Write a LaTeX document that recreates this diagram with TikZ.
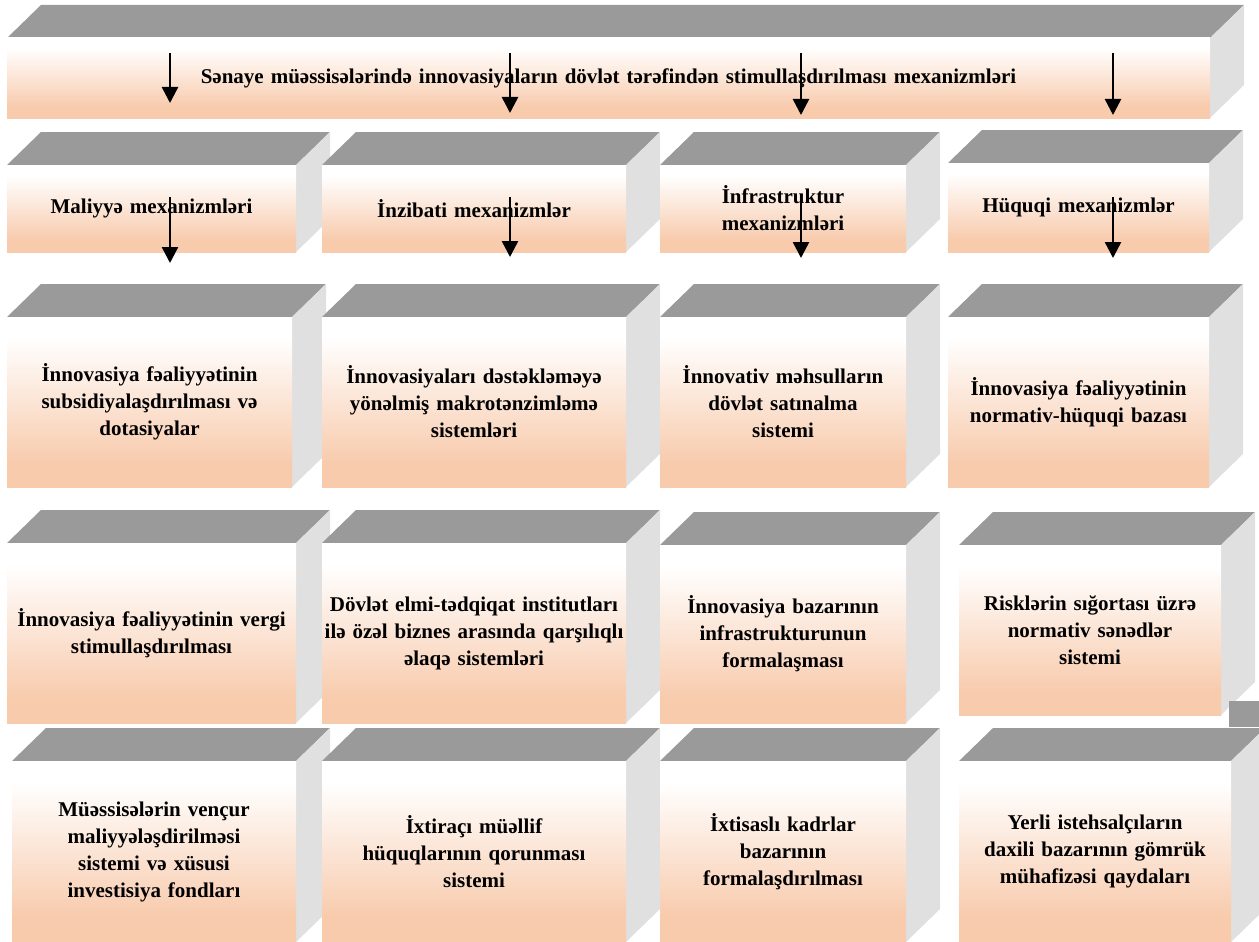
\documentclass[tikz,border=0pt]{standalone}
\usepackage{fontspec}
\setmainfont{Liberation Serif}
\usetikzlibrary{calc,arrows.meta,backgrounds}

\definecolor{peach}{HTML}{F8CBAD}
\definecolor{topgray}{HTML}{9A9A9A}
\definecolor{sidegray}{HTML}{E0E0E0}
\pgfdeclareverticalshading{peachfade}{100bp}{color(0bp)=(peach); color(32bp)=(peach); color(69bp)=(white); color(100bp)=(white)}

\begin{document}
\begin{tikzpicture}[x=1pt,y=-1pt,
    front/.style={shading=peachfade,inner sep=0pt,outer sep=0pt,align=center,
      font=\fontsize{21}{27}\selectfont\bfseries},
    topface/.style={fill=topgray},
    sideface/.style={fill=sidegray},
    arr/.style={line width=2.5pt,-{Triangle[width=16pt,length=16pt]}}]
  \useasboundingbox (0,0) rectangle (1259,942);

  % top
  \node[front,text width=1203pt,minimum height=80pt](S) at (608.5,78)
    {Sənaye müəssisələrində innovasiyaların dövlət tərəfindən stimullaşdırılması mexanizmləri};

  % mechanisms
  \node[front,text width=289pt,minimum height=87pt](Mal) at (151.5,208.5){Maliyyə mexanizmləri};
  \node[front,text width=304pt,minimum height=87pt](Inz) at (474,208.5){İnzibati mexanizmlər};
  \node[front,text width=246pt,minimum height=87pt](Inf) at (783,208.5){İnfrastruktur\\mexanizmləri};
  \node[front,text width=261pt,minimum height=89pt](Huq) at (1078.5,207.5){Hüquqi mexanizmlər};

  \node[front,text width=285pt,minimum height=170pt](Mal1) at (149.5,402)
    {İnnovasiya fəaliyyətinin\\subsidiyalaşdırılması və\\dotasiyalar};
  \node[front,text width=304pt,minimum height=170pt](Inz1) at (474,402)
    {İnnovasiyaları dəstəkləməyə\\yönəlmiş makrotənzimləmə\\sistemləri};
  \node[front,text width=246pt,minimum height=170pt](Inf1) at (783,402)
    {İnnovativ məhsulların\\dövlət satınalma\\sistemi};
  \node[front,text width=261pt,minimum height=170pt](Huq1) at (1078.5,402)
    {İnnovasiya fəaliyyətinin\\normativ-hüquqi bazası};

  \node[front,text width=289pt,minimum height=180pt](Mal2) at (151.5,633)
    {İnnovasiya fəaliyyətinin vergi\\stimullaşdırılması};
  \node[front,text width=304pt,minimum height=180pt](Inz2) at (474,633)
    {Dövlət elmi-tədqiqat institutları\\ilə özəl biznes arasında qarşılıqlı\\əlaqə sistemləri};
  \node[front,text width=246pt,minimum height=178pt](Inf2) at (783,634)
    {İnnovasiya bazarının\\infrastrukturunun\\formalaşması};
  \node[front,text width=262pt,minimum height=170pt](Huq2) at (1090,630)
    {Risklərin sığortası üzrə\\normativ sənədlər\\sistemi};

  \node[front,text width=284pt,minimum height=181pt](Mal3) at (154,851.5)
    {Müəssisələrin vençur\\maliyyələşdirilməsi\\sistemi və xüsusi\\investisiya fondları};
  \node[front,text width=304pt,minimum height=181pt](Inz3) at (474,851.5)
    {İxtiraçı müəllif\\hüquqlarının qorunması\\sistemi};
  \node[front,text width=246pt,minimum height=181pt](Inf3) at (783,851.5)
    {İxtisaslı kadrlar\\bazarının\\formalaşdırılması};
  \node[front,text width=272pt,minimum height=181pt](Huq3) at (1095,851.5)
    {Yerli istehsalçıların\\daxili bazarının gömrük\\mühafizəsi qaydaları};

  % top and side faces behind the fronts
  \begin{scope}[on background layer]
    \foreach \n in {S,Mal,Inz,Inf,Huq,Mal1,Inz1,Inf1,Huq1,Mal2,Inz2,Inf2,Huq2,Mal3,Inz3,Inf3,Huq3}{
      \fill[topface] (\n.north west) -- ++(34,-33) -- ($(\n.north east)+(34,-33)$) -- (\n.north east) -- cycle;
      \fill[sideface] (\n.north east) -- ++(34,-33) -- ($(\n.south east)+(34,-33)$) -- (\n.south east) -- cycle;
    }
    \fill[topface] (1229,701) rectangle (1259,727);
  \end{scope}

  \foreach \x/\ya/\yb [count=\i] in {170/53/103,510/53/113,801/53/115,1113/53/115,
                                     170/197/263,510/197/257,801/197/258,1113/197/258}{
    \coordinate (t\i) at (\x,\ya);
    \coordinate (h\i) at (\x,\yb);
    \draw[arr] (t\i) -- (h\i);
  }
\end{tikzpicture}
\end{document}
